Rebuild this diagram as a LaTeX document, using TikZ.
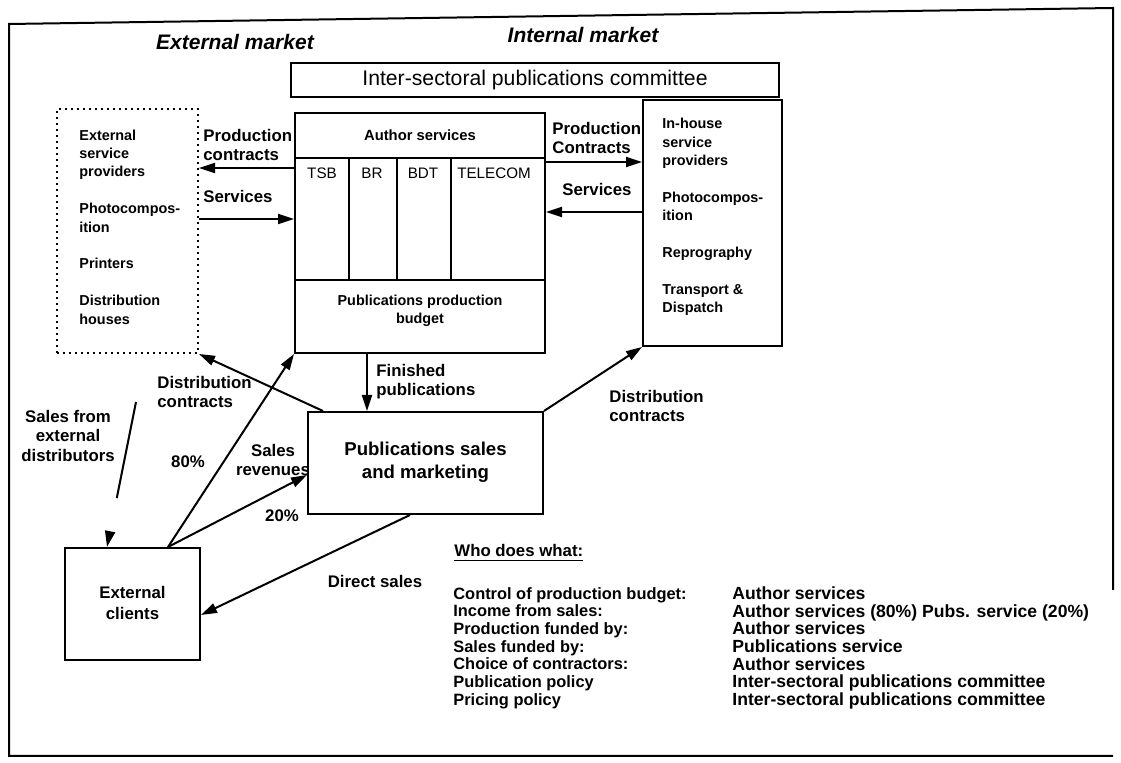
\documentclass[tikz,border=0pt]{standalone}
\usepackage{fontspec}
\setmainfont{Liberation Sans}
\usetikzlibrary{arrows.meta}

\begin{document}
\begin{tikzpicture}[x=0.5pt,y=-0.5pt]
	\tikzstyle{every node}=[inner sep=0pt, font=\bfseries\fontsize{8.4}{9.6}\selectfont]
	\tikzstyle{box}=[draw, line width=1pt]
	\tikzstyle{arr}=[line width=1pt, -{Triangle[length=8pt,width=5pt]}]
	\tikzstyle{lbl}=[align=left, anchor=west]
	\tikzstyle{inner}=[align=left, anchor=west, font=\bfseries\fontsize{7.2}{9.2}\selectfont]
	\tikzstyle{market}=[font=\bfseries\itshape\fontsize{10.5}{12}\selectfont]
	\tikzstyle{col}=[font=\fontsize{7.6}{9}\selectfont]

	\useasboundingbox [fill=white] (0,0) rectangle (1121,763);

	%% frame
	\draw [line width=1pt] (1113,590) -- (1113,8) -- (9,24) -- (9,756) -- (1113,756);

	\node [market] (extm) at (235,42) {External market};
	\node [market] (intm) at (583,35) {Internal market};

	%% boxes
	\node [box, minimum width=244pt, minimum height=17pt] (comm) at (535,80) {};
	\node [font=\fontsize{10.6}{12}\selectfont] (commtxt) at (535,80) {Inter-sectoral publications committee};

	\node [box, dotted, minimum width=70.5pt, minimum height=122pt] (ext) at (127.5,231) {};
	\node [inner] (exttxt) at (79,227) {External\\service\\providers\\[9.2pt]Photocompos-\\ition\\[9.2pt]Printers\\[9.2pt]Distribution\\houses};

	\node [box, minimum width=125pt, minimum height=120pt] (auth) at (420,233) {};
	\coordinate (hdr) at (0,158);
	\coordinate (colb) at (0,280);
	\draw [line width=1pt] (auth.west |- hdr) -- (auth.east |- hdr);
	\draw [line width=1pt] (auth.west |- colb) -- (auth.east |- colb);
	\draw [line width=1pt] (349,158) -- (349,280);
	\draw [line width=1pt] (397,158) -- (397,280);
	\draw [line width=1pt] (451,158) -- (451,280);
	\node [font=\bfseries\fontsize{7.4}{9}\selectfont] (authtxt) at (420,135) {Author services};
	\node [col] (tsb) at (322,173) {TSB};
	\node [col] (br) at (372,173) {BR};
	\node [col] (bdt) at (423,173) {BDT};
	\node [col] (tel) at (494,173) {TELECOM};
	\node [align=center, font=\bfseries\fontsize{7.2}{9}\selectfont] (budget) at (420,311) {Publications production\\budget};

	\node [box, minimum width=69.5pt, minimum height=123pt] (inh) at (712.5,223) {};
	\node [inner] (inhtxt) at (662,217) {In-house\\service\\providers\\[9.2pt]Photocompos-\\ition\\[9.2pt]Reprography\\[9.2pt]Transport \&\\Dispatch};

	\node [box, minimum width=117.5pt, minimum height=51pt] (sales) at (425.5,463) {};
	\node [align=center, font=\bfseries\fontsize{9.3}{11.5}\selectfont] (salestxt) at (425.5,462) {Publications sales\\and marketing};

	\node [box, minimum width=67.5pt, minimum height=56pt] (cli) at (132.5,604) {};
	\node [align=center, font=\bfseries\fontsize{8.4}{10.6}\selectfont] (clitxt) at (132.5,603) {External\\clients};

	%% connectors
	\coordinate (pcl) at (0,168);
	\coordinate (svl) at (0,219);
	\coordinate (pcr) at (0,162);
	\coordinate (svr) at (0,212);
	\coordinate (fin) at (367,0);
	\coordinate (dl) at (323,0);
	\coordinate (cs) at (168,0);
	\coordinate (rv) at (0,475);
	\coordinate (ds) at (410,0);
	\coordinate (dsy) at (0,615);
	\coordinate (sfd) at (136,402);
	\coordinate (sfe) at (107,0);

	\draw [arr] (auth.west |- pcl) -- (ext.east |- pcl);
	\draw [arr] (ext.east |- svl) -- (auth.west |- svl);
	\draw [arr] (auth.east |- pcr) -- (inh.west |- pcr);
	\draw [arr] (inh.west |- svr) -- (auth.east |- svr);
	\draw [arr] (auth.south -| fin) -- (sales.north -| fin);
	\draw [arr] (sales.north -| dl) -- (ext.south east);
	\draw [arr] (sales.north east) -- (inh.south west);
	\draw [arr] (cli.north -| cs) -- (auth.south west);
	\draw [arr] (cli.north -| cs) -- (sales.west |- rv);
	\draw [arr] (sales.south -| ds) -- (cli.east |- dsy);
	\draw [arr, dash pattern=on 49pt off 40pt] (sfd) -- (cli.north -| sfe);

	%% labels
	\node [lbl] (pcltxt) at (203,145) {Production\\contracts};
	\node [lbl] (svltxt) at (203,197) {Services};
	\node [lbl] (pcrtxt) at (552,138) {Production\\Contracts};
	\node [lbl] (svrtxt) at (562,190) {Services};
	\node [lbl] (dltxt) at (157,392) {Distribution\\contracts};
	\node [lbl] (fintxt) at (376,382) {Finished\\publications};
	\node [lbl] (drtxt) at (609,406) {Distribution\\contracts};
	\node [align=center] (sfdtxt) at (68,436) {Sales from\\external\\distributors};
	\node (p80) at (188,462) {80\%};
	\node [align=center] (rvtxt) at (273,460) {Sales\\revenues};
	\node (p20) at (282,516) {20\%};
	\node (dstxt) at (375,582) {Direct sales};

	%% who does what
	\node [anchor=west] (who) at (454,553) {\underline{Who does what:}};
	\node [lbl, font=\bfseries\fontsize{8.2}{8.85}\selectfont] (what) at (453,648) {Control of production budget:\\Income from sales:\\Production funded by:\\Sales funded by:\\Choice of contractors:\\Publication policy\\Pricing policy};
	\node [lbl, font=\bfseries\fontsize{8.8}{8.85}\selectfont] (whom) at (732,648) {Author services\\Author services (80\%) Pubs. service (20\%)\\Author services\\Publications service\\Author services\\Inter-sectoral publications committee\\Inter-sectoral publications committee};

\end{tikzpicture}
\end{document}
